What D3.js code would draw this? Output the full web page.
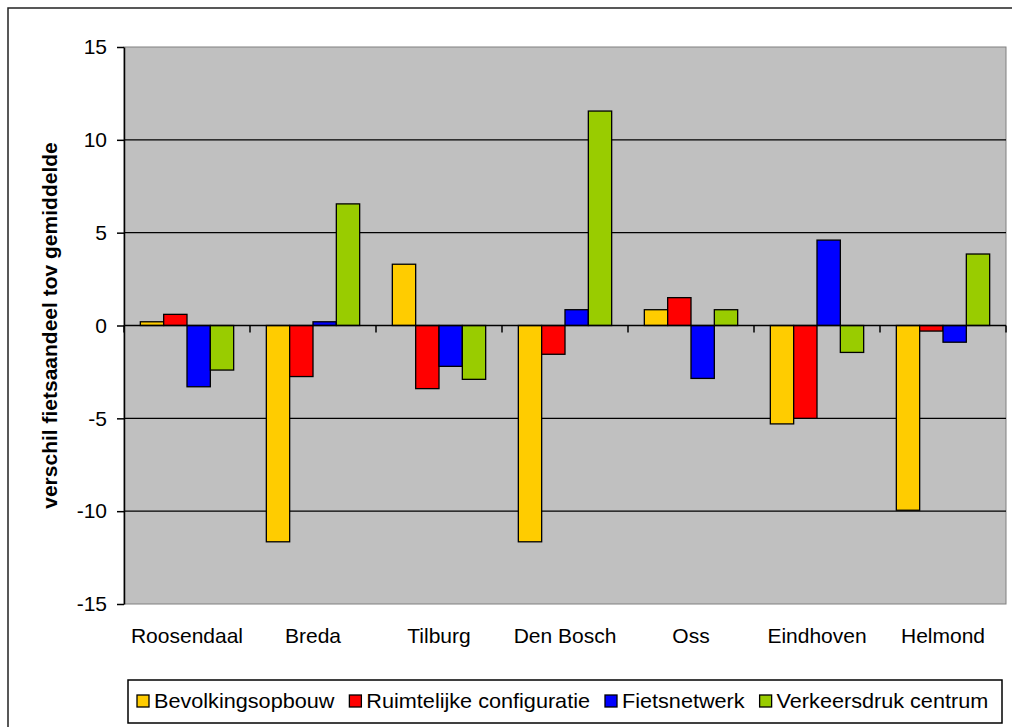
<!DOCTYPE html>
<html>
<head>
<meta charset="utf-8">
<script src="https://cdn.jsdelivr.net/npm/d3@7"></script>
<style>
  html, body { margin: 0; padding: 0; background: #fff; }
  svg { display: block; font-family: "Liberation Sans", Arial, sans-serif; }
</style>
</head>
<body>
<svg id="chart" width="1012" height="727"></svg>
<script>
// --- data ---
const cities = ["Roosendaal", "Breda", "Tilburg", "Den Bosch", "Oss", "Eindhoven", "Helmond"];
const seriesNames = ["Bevolkingsopbouw", "Ruimtelijke configuratie", "Fietsnetwerk", "Verkeersdruk centrum"];
const seriesColors = ["#FFCC00", "#FF0000", "#0000FF", "#99CC00"];
const bevolking   = [0.2, -11.65, 3.3, -11.65, 0.85, -5.3, -9.95];
const ruimtelijk  = [0.6, -2.75, -3.4, -1.55, 1.5, -5.0, -0.3];
const fietsnet    = [-3.3, 0.2, -2.2, 0.85, -2.85, 4.6, -0.9];
const verkeer     = [-2.4, 6.55, -2.9, 11.55, 0.85, -1.45, 3.85];
const yTicks = [-15, -10, -5, 0, 5, 10, 15];
const yLabel = "verschil fietsaandeel tov gemiddelde";

const values = [bevolking, ruimtelijk, fietsnet, verkeer];
const rows = cities.map((c, i) => ({
  city: c,
  vals: seriesNames.map((s, j) => ({ key: s, value: values[j][i], color: seriesColors[j] }))
}));

const svg = d3.select("#chart");
const plot = { left: 124, right: 1006, top: 47, bottom: 604 };

// outer chart frame (runs off the right/bottom edge like the original)
svg.append("rect")
  .attr("x", 8).attr("y", 8)
  .attr("width", 1100).attr("height", 800)
  .attr("fill", "none")
  .attr("stroke", "#222").attr("stroke-width", 1.5);

const x0 = d3.scaleBand()
  .domain(cities)
  .range([plot.left, plot.right])
  .padding(0);

const x1 = d3.scaleBand()
  .domain(seriesNames)
  .range([0, x0.bandwidth()])
  .paddingInner(0)
  .paddingOuter(0.7);

const y = d3.scaleLinear()
  .domain([-15, 15])
  .range([plot.bottom, plot.top]);

// plot area
svg.append("rect")
  .attr("x", plot.left).attr("y", plot.top)
  .attr("width", plot.right - plot.left)
  .attr("height", plot.bottom - plot.top)
  .attr("fill", "#C0C0C0")
  .attr("stroke", "#808080").attr("stroke-width", 1);

// gridlines
svg.append("g")
  .selectAll("line")
  .data(yTicks.filter(t => t !== 0 && Math.abs(t) !== 15))
  .join("line")
  .attr("x1", plot.left).attr("x2", plot.right)
  .attr("y1", d => y(d)).attr("y2", d => y(d))
  .attr("stroke", "#000").attr("stroke-width", 1.2);

// bars
const groups = svg.append("g")
  .selectAll("g")
  .data(rows)
  .join("g")
  .attr("transform", d => `translate(${x0(d.city)},0)`);

groups.selectAll("rect")
  .data(d => d.vals)
  .join("rect")
  .attr("x", d => x1(d.key))
  .attr("width", x1.bandwidth())
  .attr("y", d => y(Math.max(0, d.value)))
  .attr("height", d => Math.abs(y(d.value) - y(0)))
  .attr("fill", d => d.color)
  .attr("stroke", "#000")
  .attr("stroke-width", 1.3);

// y axis (plain hyphen for negatives, like the original)
const yAxis = svg.append("g")
  .attr("transform", `translate(${plot.left},0)`)
  .call(d3.axisLeft(y).tickValues(yTicks).tickFormat(d => String(d))
    .tickSize(7).tickPadding(10).tickSizeOuter(0));
yAxis.select(".domain").attr("stroke", "#000").attr("stroke-width", 1.5);
yAxis.selectAll(".tick line").attr("stroke", "#000").attr("stroke-width", 1.5);
yAxis.selectAll(".tick text")
  .attr("fill", "#000")
  .attr("font-size", 21)
  .attr("font-family", "Liberation Sans, Arial, sans-serif");

// x axis along zero line
const xAxisG = svg.append("g").attr("transform", `translate(0,${y(0)})`);
xAxisG.append("line")
  .attr("x1", plot.left).attr("x2", plot.right)
  .attr("stroke", "#000").attr("stroke-width", 1.5);
const boundaries = cities.map(c => x0(c)).concat([plot.right]);
xAxisG.selectAll(".xt")
  .data(boundaries)
  .join("line")
  .attr("class", "xt")
  .attr("x1", d => d).attr("x2", d => d)
  .attr("y1", 0).attr("y2", 7)
  .attr("stroke", "#000").attr("stroke-width", 1.5);

// category labels
svg.append("g")
  .selectAll("text")
  .data(cities)
  .join("text")
  .attr("x", d => x0(d) + x0.bandwidth() / 2)
  .attr("y", 643)
  .attr("text-anchor", "middle")
  .attr("font-size", 21)
  .attr("fill", "#000")
  .text(d => d);

// y axis title
svg.append("text")
  .attr("transform", `translate(57,${(plot.top + plot.bottom) / 2}) rotate(-90)`)
  .attr("text-anchor", "middle")
  .attr("font-size", 21)
  .attr("font-weight", "bold")
  .attr("fill", "#000")
  .text(yLabel);

// legend
const legend = svg.append("g");
legend.append("rect")
  .attr("x", 128).attr("y", 680)
  .attr("width", 874).attr("height", 43)
  .attr("fill", "#fff")
  .attr("stroke", "#000").attr("stroke-width", 1.5);

let lx = 137;
seriesNames.forEach((name, i) => {
  legend.append("rect")
    .attr("x", lx).attr("y", 695)
    .attr("width", 12).attr("height", 12)
    .attr("fill", seriesColors[i])
    .attr("stroke", "#000").attr("stroke-width", 1.3);
  const t = legend.append("text")
    .attr("x", lx + 17)
    .attr("y", 708)
    .attr("font-size", 21)
    .attr("fill", "#000")
    .text(name);
  const w = t.node().getComputedTextLength() * 1.03;
  t.attr("textLength", w).attr("lengthAdjust", "spacingAndGlyphs");
  lx += 17 + w + 15;
});
</script>
</body>
</html>
